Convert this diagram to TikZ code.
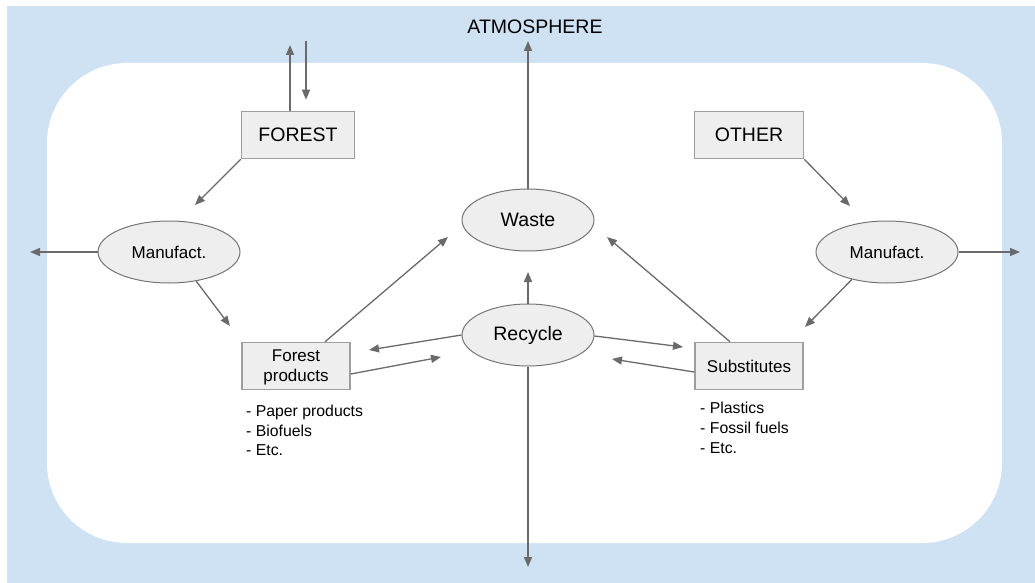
\documentclass[tikz,border=0pt]{standalone}
\usepackage{fontspec}
\setmainfont{Liberation Sans}
\usetikzlibrary{arrows.meta,shapes.geometric,calc}
\definecolor{atmo}{HTML}{CFE2F3}
\definecolor{nodefill}{HTML}{EEEEEE}
\definecolor{boxline}{HTML}{9E9E9E}
\definecolor{ellline}{HTML}{757575}
\definecolor{arrline}{HTML}{6A6A6A}
\tikzset{
  boxnode/.style={draw=boxline, line width=1.5pt, fill=nodefill, rectangle, inner sep=0pt, align=center},
  ellnode/.style={draw=ellline, line width=1pt, fill=nodefill, ellipse, inner sep=0pt, minimum width=142pt, minimum height=62pt},
  arr/.style={draw=arrline, line width=1.3pt, -{Triangle[length=10pt,width=8pt]}},
  listtxt/.style={anchor=base west, inner sep=0pt, font=\fontsize{15.8}{19}\selectfont},
}
\begin{document}
\begin{tikzpicture}[x=1pt,y=-1pt]
\useasboundingbox (0,0) rectangle (1035,583);
\fill[atmo] (7,6) rectangle (1035,583);
\fill[white, rounded corners=80pt] (47,63) rectangle (1002,543);

\node[inner sep=0pt, font=\fontsize{19.5}{23}\selectfont] (atm) at (535,27) {ATMOSPHERE};

\node[boxnode, minimum width=113pt, minimum height=47pt, font=\fontsize{19.5}{23}\selectfont] (forest) at (298,135) {FOREST};
\node[boxnode, minimum width=109pt, minimum height=47pt, font=\fontsize{19.5}{23}\selectfont] (other) at (749,135) {OTHER};
\node[ellnode, font=\fontsize{17}{20}\selectfont] (mfl) at (169,252) {Manufact.};
\node[ellnode, font=\fontsize{17}{20}\selectfont] (mfr) at (887,252) {Manufact.};
\node[ellnode, minimum width=132pt, font=\fontsize{19.5}{23}\selectfont] (waste) at (528,220) {Waste};
\node[ellnode, minimum width=132pt, font=\fontsize{19.5}{23}\selectfont] (recycle) at (528,335) {Recycle};
\node[boxnode, minimum width=108pt, minimum height=47pt, text depth=0pt, font=\fontsize{17}{20}\selectfont] (fp) at (296,366) {Forest\\products};
\node[boxnode, minimum width=108pt, minimum height=47pt, font=\fontsize{17}{20}\selectfont] (sub) at (749,366) {Substitutes};

\node[listtxt] (fl1) at (246,416) {- Paper products};
\node[listtxt] (fl2) at (246,436) {- Biofuels};
\node[listtxt] (fl3) at (246,455) {- Etc.};
\node[listtxt] (sl1) at (700,413) {- Plastics};
\node[listtxt] (sl2) at (700,433) {- Fossil fuels};
\node[listtxt] (sl3) at (700,453) {- Etc.};

% free ends
\coordinate (fup) at (290,45);
\coordinate (fdn) at (306,41);
\coordinate (t1) at (195,205);
\coordinate (t2) at (30,252);
\coordinate (t3) at (230,326);
\coordinate (t4) at (448,237);
\coordinate (t5) at (369,350);
\coordinate (t6) at (441,357);
\coordinate (t7) at (528,272);
\coordinate (t8) at (528,567);
\coordinate (t9) at (528,41);
\coordinate (t10) at (683,347);
\coordinate (t11) at (612,359);
\coordinate (t12) at (607,237);
\coordinate (t13) at (850,206);
\coordinate (t14) at (805,327);
\coordinate (t15) at (1020,252);

\draw[arr] (forest.north -| fup) -- (fup);
\draw[arr, shorten >=11pt] (fdn) -- (forest.north -| fdn);
\draw[arr] (forest.south west) -- (t1);
\draw[arr] (mfl.west) -- (t2);
\draw[arr] (mfl.-47) -- (t3);
\draw[arr] ($(fp.north)+(29,0)$) -- (t4);
\draw[arr] (recycle.west) -- (t5);
\draw[arr] ($(fp.east)+(0,8)$) -- (t6);
\draw[arr] (recycle.north) -- (t7);
\draw[arr] (recycle.south) -- (t8);
\draw[arr] (waste.north) -- (t9);
\draw[arr] ($(recycle.east)+(0,1)$) -- (t10);
\draw[arr] ($(sub.west)+(0,6)$) -- (t11);
\draw[arr] ($(sub.north)+(-19,0)$) -- (t12);
\draw[arr] (other.south east) -- (t13);
\draw[arr] (mfr.-142) -- (t14);
\draw[arr] (mfr.east) -- (t15);
\end{tikzpicture}
\end{document}
